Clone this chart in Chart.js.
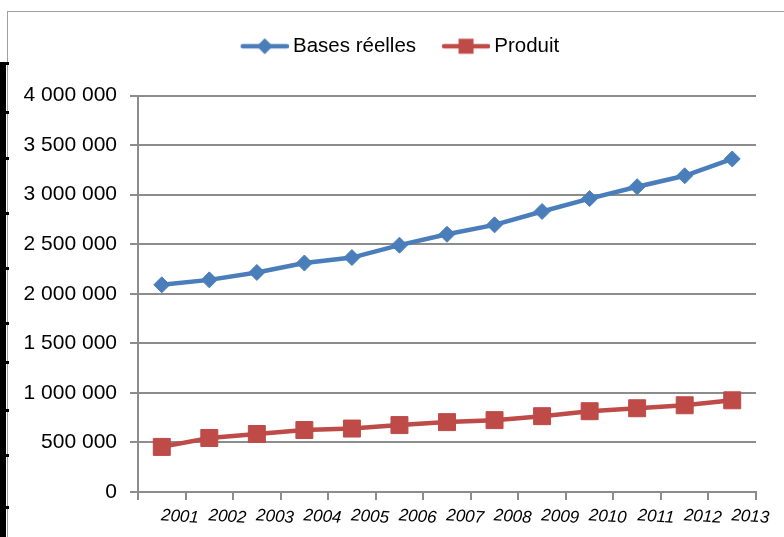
<!DOCTYPE html>
<html>
<head>
<meta charset="utf-8">
<script src="https://cdn.jsdelivr.net/npm/chart.js@4/dist/chart.umd.min.js"></script>
<style>
  html, body { margin: 0; padding: 0; background: #fff; overflow: hidden; }
  #wrap { position: relative; width: 784px; height: 537px; overflow: hidden; }
  #frame { position: absolute; left: 7px; top: 11px; width: 900px; height: 700px; border: 1.5px solid #a0a0a0; }
  #edge { position: absolute; left: 0; top: 62px; width: 6px; height: 480px; background: #000; }
  .tick { position: absolute; left: 0; width: 9px; height: 3px; background: #000; }
  canvas { position: absolute; left: 0; top: 0; }
</style>
</head>
<body>
<div id="wrap">
  <div id="frame"></div>
  <div id="edge"></div>
  <canvas id="myChart" width="784" height="537"></canvas>
</div>
<script>
const years = ['2001', '2002', '2003', '2004', '2005', '2006', '2007',
  '2008', '2009', '2010', '2011', '2012', '2013'];
const basesReelles = [2090000, 2140000, 2215000, 2310000, 2365000, 2490000, 2600000,
  2695000, 2830000, 2960000, 3080000, 3190000, 3360000];
const produit = [455000, 545000, 585000, 625000, 640000, 675000, 705000,
  725000, 765000, 815000, 845000, 875000, 925000];
const seriesNames = ['Bases réelles', 'Produit'];

const BLUE = '#4a7ebb';
const RED = '#be4b48';
const FONT = "'Liberation Sans', Arial, sans-serif";

// the black table border on the left
[62, 111, 157, 212, 267, 322, 361, 409, 454, 506].forEach((y) => {
  let d = document.createElement('div');
  d.className = 'tick';
  d.style.top = y + 'px';
  document.getElementById('wrap').appendChild(d);
});

function spaced(v) {
  return String(v).replace(/\B(?=(\d{3})+(?!\d))/g, ' ');
}

// legend symbol: line with the marker in the middle
function legendIcon(color, diamond) {
  let c = document.createElement('canvas');
  c.width = 54;
  c.height = 20;
  let g = c.getContext('2d');
  g.strokeStyle = color;
  g.lineWidth = 4.5;
  g.lineCap = 'round';
  g.beginPath();
  g.moveTo(8, 10);
  g.lineTo(52, 10);
  g.stroke();
  g.fillStyle = color;
  g.beginPath();
  if (diamond) {
    g.moveTo(30, 2); g.lineTo(38, 10); g.lineTo(30, 18); g.lineTo(22, 10);
  } else {
    g.rect(22.5, 2.5, 15, 15);
  }
  g.fill();
  return c;
}
const icons = [legendIcon(BLUE, true), legendIcon(RED, false)];

const legendSpace = {
  id: 'legendSpace',
  beforeInit(chart) {
    const fit = chart.legend.fit;
    chart.legend.fit = function () {
      fit.call(this);
      this.height += 29;
    };
  },
  afterLayout(chart) {
    chart.legend.left += 18;
    chart.legend.right += 18;
  }
};

new Chart('myChart', {
  type: 'line',
  data: {
    labels: years,
    datasets: [
      {
        label: seriesNames[0],
        data: basesReelles,
        borderColor: BLUE,
        backgroundColor: BLUE,
        borderWidth: 4.5,
        pointStyle: 'rectRot',
        pointRadius: 8,
        pointBorderWidth: 1,
        pointBackgroundColor: BLUE,
        pointBorderColor: BLUE,
        tension: 0
      },
      {
        label: seriesNames[1],
        data: produit,
        borderColor: RED,
        backgroundColor: RED,
        borderWidth: 4.5,
        pointStyle: 'rect',
        pointRadius: 12,
        pointBorderWidth: 1,
        pointBackgroundColor: RED,
        pointBorderColor: RED,
        tension: 0
      }
    ]
  },
  options: {
    responsive: false,
    animation: false,
    layout: { padding: { left: 8, right: 28, top: 10, bottom: 0 } },
    plugins: {
      tooltip: { enabled: false },
      legend: {
        position: 'top',
        labels: {
          usePointStyle: true,
          pointStyleWidth: 42,
          padding: 26,
          color: '#000',
          font: { family: FONT, size: 20.5 },
          generateLabels(chart) {
            let items = Chart.defaults.plugins.legend.labels.generateLabels(chart);
            items.forEach((it, i) => { it.pointStyle = icons[i]; });
            return items;
          }
        }
      }
    },
    scales: {
      x: {
        offset: true,
        grid: { offset: true, drawOnChartArea: false, drawTicks: true, tickLength: 8, color: '#8c8c8c', lineWidth: 2 },
        border: { display: true, color: '#8c8c8c', width: 2 },
        ticks: {
          color: '#000',
          font: { family: FONT, size: 17, style: 'italic' },
          minRotation: -4,
          maxRotation: -4,
          labelOffset: 37,
          padding: 8,
          autoSkip: false
        },
        afterFit(s) { s.height = 45; }
      },
      y: {
        min: 0,
        max: 4000000,
        grid: { color: '#8c8c8c', lineWidth: 2, tickLength: 8 },
        border: { display: true, color: '#8c8c8c', width: 2 },
        ticks: {
          stepSize: 500000,
          color: '#000',
          padding: 13,
          font: { family: FONT, size: 21 },
          callback: (v) => spaced(v)
        },
        afterFit(s) { s.width = 130; }
      }
    }
  },
  plugins: [legendSpace]
});
</script>
</body>
</html>
